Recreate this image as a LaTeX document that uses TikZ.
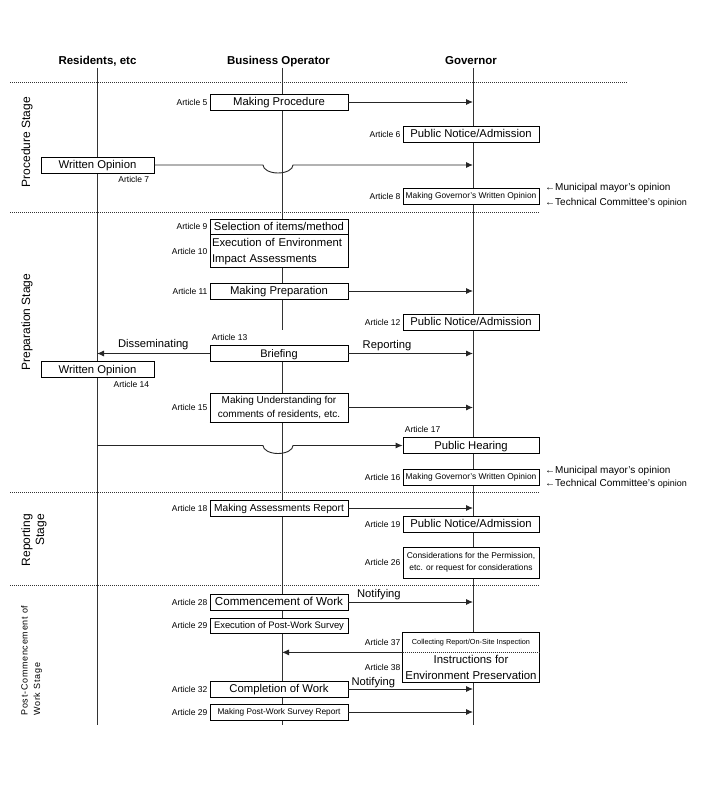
\documentclass[tikz,border=0pt]{standalone}
\usepackage{fontspec}
\setmainfont{Liberation Sans}
\newfontfamily\spacedfont[LetterSpace=8]{Liberation Sans}
\usetikzlibrary{positioning, arrows.meta, backgrounds}

\tikzset{
  lane/.style={draw=black!80, line width=1pt},
  sep/.style={draw=black!80, line width=0.8pt, dash pattern=on 1pt off 1pt},
  fs/.style={font=\fontsize{#1}{#1}\selectfont, text height=0.85*#1, text depth=0.17*#1},
  box/.style={draw, fill=white, line width=0.75pt, minimum height=16pt, inner sep=1pt, fs=11.3},
  multi/.style={text height=, text depth=, align=center},
  opbox/.style={box, minimum width=138pt},
  govbox/.style={box, minimum width=136pt},
  resbox/.style={box, minimum width=113pt},
  art/.style={font=\fontsize{8.5}{10}\selectfont, inner sep=1pt},
  msg/.style={draw=black!85, line width=0.9pt, -{Latex[length=7pt,width=6pt]}},
  lbl/.style={font=\fontsize{11.2}{13}\selectfont, inner sep=1pt},
  note/.style={font=\fontsize{10}{12}\selectfont, anchor=west, inner sep=0pt},
  head/.style={font=\bfseries\fontsize{11.5}{13}\selectfont, inner sep=1pt, text height=8.5pt, text depth=2.5pt},
  stage/.style={rotate=90, font=\fontsize{12}{14}\selectfont, inner sep=0pt}
}

\begin{document}
\begin{tikzpicture}[x=1pt, y=-1pt]
\useasboundingbox (0,0) rectangle (720,800);

% Headers and lanes
\node[head] (resH) at (97.5,61) {Residents, etc};
\node[head] (opH) at (278.5,61) {Business Operator};
\node[head] (govH) at (471,61) {Governor};
\coordinate (resL) at (97,68);
\coordinate (opL) at (282,68);
\coordinate (govL) at (473,68);
\coordinate (laneEnd) at (0,725);

% Stages
\node[stage] (stProc) at (27,142) {Procedure Stage};
\node[stage] (stPrep) at (27,322) {Preparation Stage};
\node[stage, align=right, font=\fontsize{12}{14}\selectfont] (stRep) at (34,540) {Reporting\\Stage};
\node[stage, align=left, font={\spacedfont\fontsize{9}{12.5}\selectfont}] (stPost) at (31.5,660.5) {Post-Commencement of\\Work Stage};

% Procedure stage
\node[opbox] (proc) at (279,102) {Making Procedure};
\node[art, left=1pt of proc] {Article 5};
\node[govbox] (pn1) at (471,134) {Public Notice/Admission};
\node[art, left=1pt of pn1] {Article 6};
\node[resbox] (wo1) at (97.5,165) {Written Opinion};
\node[art, anchor=north east] at ([xshift=-4pt, yshift=-2pt]wo1.south east) {Article 7};
\node[govbox, fs=8.4] (gop1) at (471,196) {Making Governor's Written Opinion};
\node[art, left=1pt of gop1] {Article 8};
\node[note] at (545,188) {←Municipal mayor's opinion};
\node[note] at (545,203) {←Technical Committee's {\fontsize{9}{11}\selectfont opinion}};

% Preparation stage
\node[opbox, minimum height=15pt] (sel) at (279,226.5) {Selection of items/method};
\node[art, left=1pt of sel] {Article 9};
\node[opbox, multi, below=0pt of sel, minimum height=33pt, text width=134pt, align=left,
  font=\fontsize{11.3}{16}\selectfont] (exe) {Execution of Environment\\Impact Assessments};
\node[art, left=1pt of exe] {Article 10};
\node[opbox] (prep) at (279,291) {Making Preparation};
\node[art, left=1pt of prep] {Article 11};
\node[govbox] (pn2) at (471,322) {Public Notice/Admission};
\node[art, left=1pt of pn2] {Article 12};
\node[opbox, fs=11] (brief) at (279,353.5) {Briefing};
\node[art, anchor=south west] at ([xshift=1pt, yshift=3pt]brief.north west) {Article 13};
\node[resbox] (wo2) at (97.5,369.5) {Written Opinion};
\node[art, anchor=north east] at ([xshift=-4pt, yshift=-2pt]wo2.south east) {Article 14};
\node[opbox, multi, minimum height=29pt, font=\fontsize{10}{14}\selectfont] (mu) at (279,407.5)
  {Making Understanding for\\comments of residents, etc.};
\node[art, left=1pt of mu] {Article 15};
\node[govbox] (ph) at (471,445.5) {Public Hearing};
\node[art, anchor=south west] at ([xshift=1pt, yshift=3pt]ph.north west) {Article 17};
\node[govbox, fs=8.4] (gop2) at (471,477) {Making Governor's Written Opinion};
\node[art, left=1pt of gop2] {Article 16};
\node[note] at (545,471) {←Municipal mayor's opinion};
\node[note] at (545,484) {←Technical Committee's {\fontsize{9}{11}\selectfont opinion}};

% Reporting stage
\node[opbox, fs=10.2] (mar) at (279,508) {Making Assessments Report};
\node[art, left=1pt of mar] {Article 18};
\node[govbox] (pn3) at (471,524) {Public Notice/Admission};
\node[art, left=1pt of pn3] {Article 19};
\node[govbox, multi, minimum height=31pt, font=\fontsize{8.4}{12.5}\selectfont] (cons) at (471,562.5)
  {Considerations for the Permission,\\etc. or request for considerations};
\node[art, left=1pt of cons] {Article 26};

% Post-commencement stage
\node[opbox, fs=11.6] (cw) at (279,602) {Commencement of Work};
\node[art, left=1pt of cw] {Article 28};
\node[opbox, minimum height=15pt, fs=9.4] (eps) at (279,625.5) {Execution of Post-Work Survey};
\node[art, left=1pt of eps] {Article 29};
\node[govbox, draw=none, fill=none, minimum height=19pt, fs=7.3] (cr) at (471,642.5)
  {Collecting Report/On-Site Inspection};
\node[art, left=1pt of cr] {Article 37};
\node[govbox, multi, draw=none, fill=none, below=0pt of cr, minimum height=29pt,
  font=\fontsize{11.4}{16}\selectfont] (ie) {Instructions for\\Environment Preservation};
\node[art, left=1pt of ie] {Article 38};
\node[opbox] (cmp) at (279,689) {Completion of Work};
\node[art, left=1pt of cmp] {Article 32};
\node[opbox, fs=8.3] (mpr) at (279,712) {Making Post-Work Survey Report};
\node[art, left=1pt of mpr] {Article 29};

\begin{scope}[on background layer]
  \draw[lane] (resL) -- (resL |- laneEnd);
  \draw[lane] (opL) -- (opL |- pn2.south);
  \draw[lane] (opL |- brief.north) -- (opL |- laneEnd);
  \draw[lane] (govL) -- (govL |- laneEnd);
  \fill[white] (cr.north west) rectangle (ie.south east);
  \draw[sep] (10,82) -- (627,82);
  \draw[sep] (10,212) -- (540,212);
  \draw[sep] (10,492) -- (540,492);
  \draw[sep] (10,585) -- (540,585);
\end{scope}

% Inspection box
\draw[line width=0.75pt] (cr.north west) rectangle (ie.south east);
\draw[sep] (cr.south west) -- (cr.south east);
\draw[line width=1.6pt] (mu.south west) -- (mu.south east);

% Connectors
\draw[msg] (proc.east) -- (proc.east -| govL);
\draw[msg] (wo1.east) -- ([xshift=-19pt]wo1.east -| opL)
  arc[start angle=180, end angle=360, x radius=15pt, y radius=8pt] -- (wo1.east -| govL);
\draw[msg] (prep.east) -- (prep.east -| govL);
\draw[msg] (brief.west) -- (brief.west -| resL) node[lbl, midway, above=2pt] {Disseminating};
\draw[msg] (brief.east) -- (brief.east -| govL) node[lbl, pos=0.31, above=1pt] {Reporting};
\draw[msg] (mu.east) -- (mu.east -| govL);
\draw[msg] (ph.west -| resL) -- ([xshift=-19pt]ph.west -| opL)
  arc[start angle=180, end angle=360, x radius=15pt, y radius=8pt] -- (ph.west);
\draw[msg] (mar.east) -- (mar.east -| govL);
\draw[msg] (cw.east) -- (cw.east -| govL) node[lbl, pos=0.245, above=1pt] {Notifying};
\draw[msg] (cr.south west) -- (cr.south west -| opL);
\draw[msg] (cmp.east) -- (cmp.east -| govL) node[lbl, pos=0.2, above=0pt] {Notifying};
\draw[msg] (mpr.east) -- (mpr.east -| govL);
\end{tikzpicture}
\end{document}
